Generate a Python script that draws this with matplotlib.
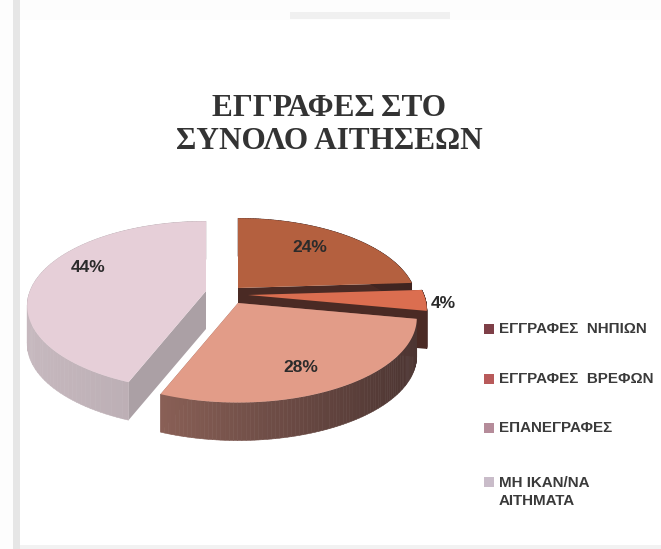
import numpy as np
import matplotlib
matplotlib.use('Agg')
import matplotlib.pyplot as plt
from matplotlib.colors import to_rgb

# datos
categorias = ['ΕΓΓΡΑΦΕΣ  ΝΗΠΙΩΝ', 'ΕΓΓΡΑΦΕΣ  ΒΡΕΦΩΝ', 'ΕΠΑΝΕΓΡΑΦΕΣ', 'ΜΗ ΙΚΑΝ/ΝΑ\nΑΙΤΗΜΑΤΑ']
valores = [24, 4, 28, 44]
etiquetas = ['24%', '4%', '28%', '44%']

# estilo
col_top = ['#B4603F', '#DB6E50', '#E29C88', '#E6CFD8']
col_izq = ['#5A3028', '#6A3A30', '#A87568', '#C6B8BE']
col_der = ['#3E2420', '#4A2A25', '#4B3431', '#9F9499']
col_cara = ['#4A2A24', '#4A2A24', '#8A5F55', '#ABA0A5']
col_ley = ['#7E3F47', '#B85A5A', '#B58C9A', '#C9BCC9']
apex = [(238, 288), (248, 295), (238, 303), (206, 291)]
pos_etq = [(310, 248), (443, 304), (301, 368), (88, 268)]
pos_ley = [329, 379, 428, 482]

R, RY, K, H = 176, 82, 0.176, 38

fig = plt.figure(figsize=(6.61, 5.49), dpi=100, facecolor='#FDFDFD')

# las porciones salen de pie(), luego se proyectan con perspectiva
ax_pie = fig.add_axes([0, 0, 0.01, 0.01])
wedges, _ = ax_pie.pie(valores, startangle=90, counterclock=False)
angulos = [(w.theta1, w.theta2) for w in wedges]
ax_pie.remove()

ax = fig.add_axes([0, 0, 1, 1])
ax.set_xlim(0, 661)
ax.set_ylim(549, 0)
ax.axis('off')

# marco de la diapositiva escaneada
ax.fill_between([13, 20], 0, 549, color='#E6E6E6', lw=0)
ax.fill_between([20, 661], 20, 549, color='white', lw=0)
ax.fill_between([290, 450], 12, 19, color='#F0F0F0', lw=0)
ax.fill_between([20, 661], 545, 549, color='#F2F2F2', lw=0)


def proyectar(cx, cy, t):
    u, v = np.cos(t), np.sin(t)
    w = 1 + K * v
    return cx + R * u / w, cy - RY * v / w


def mezcla(c1, c2, f):
    return tuple((1 - f) * a + f * b for a, b in zip(to_rgb(c1), to_rgb(c2)))


# orden de dibujo: atras hacia adelante
for i in [0, 1, 3, 2]:
    cx, cy = apex[i]
    t1, t2 = np.radians(angulos[i][0]), np.radians(angulos[i][1])
    t = np.linspace(t1, t2, 90)
    x, y = proyectar(cx, cy, t)

    # caras del corte
    for a in (t1, t2):
        xa, ya = proyectar(cx, cy, a)
        ax.fill([cx, xa, xa, cx], [cy, ya, ya + H, cy + H], color=col_cara[i], lw=0)

    # pared exterior con degradado
    for j in range(len(t) - 1):
        f = np.clip((x[j] - 30) / 390, 0, 1)
        ax.fill([x[j], x[j + 1], x[j + 1], x[j]],
                [y[j], y[j + 1], y[j + 1] + H, y[j] + H],
                color=mezcla(col_izq[i], col_der[i], f), lw=0.4)

    # cara superior
    ax.fill(np.r_[cx, x], np.r_[cy, y], color=col_top[i], lw=0)
    ax.text(pos_etq[i][0], pos_etq[i][1], etiquetas[i], fontsize=12.5, fontweight='bold',
            color='#2B2B2B', ha='center', va='center', family='Liberation Sans')

ax.text(329, 125, 'ΕΓΓΡΑΦΕΣ\u2009ΣΤΟ\nΣΥΝΟΛΟ ΑΙΤΗΣΕΩΝ', fontsize=22.5, family='Liberation Serif',
        fontweight='bold', color='#333333', ha='center', va='center', linespacing=1.22)

# leyenda
for c, yl, nombre in zip(col_ley, pos_ley, categorias):
    ax.scatter([489], [yl], marker='s', s=42, color=c, lw=0)
    y_txt = yl + 10 if '\n' in nombre else yl
    ax.text(499, y_txt, nombre, fontsize=10.9, fontweight='bold', color='#3A3A3A',
            family='Liberation Sans', ha='left', va='center', linespacing=1.4)

fig.savefig('out.png', dpi=100, facecolor=fig.get_facecolor())
